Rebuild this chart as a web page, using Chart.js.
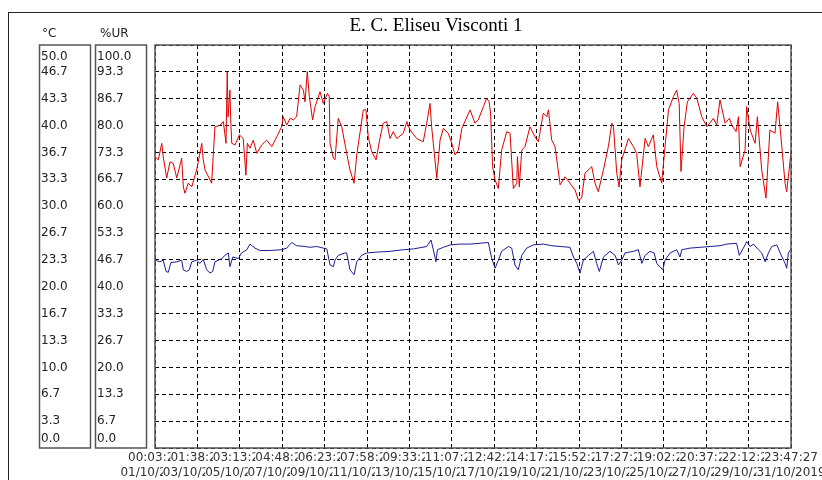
<!DOCTYPE html>
<html>
<head>
<meta charset="utf-8">
<script src="https://cdn.jsdelivr.net/npm/chart.js@4.4.1/dist/chart.umd.min.js"></script>
<style>
  body { margin: 0; background: #fff; }
</style>
</head>
<body>
<canvas id="EstacaoChart" width="822" height="480"></canvas>
<script>
// Estacao climatica - temperatura e umidade relativa, outubro 2019
var chartTitle = 'E. C. Eliseu Visconti 1';
var axisHeaders = ['°C', '%UR'];

// x axis: days since 01/10/2019 00:03
var spanDays = 30.989;
var tickTimes = ['00:03:27', '01:38:27', '03:13:27', '04:48:27', '06:23:27', '07:58:27', '09:33:27', '11:07:27',
  '12:42:27', '14:17:27', '15:52:27', '17:27:27', '19:02:27', '20:37:27', '22:12:27', '23:47:27'];
var tickDates = ['01/10/2019', '03/10/2019', '05/10/2019', '07/10/2019', '09/10/2019', '11/10/2019', '13/10/2019', '15/10/2019',
  '17/10/2019', '19/10/2019', '21/10/2019', '23/10/2019', '25/10/2019', '27/10/2019', '29/10/2019', '31/10/2019'];

var tempLabels = ['0.0', '3.3', '6.7', '10.0', '13.3', '16.7', '20.0', '23.3', '26.7', '30.0', '33.3', '36.7', '40.0', '43.3', '46.7', '50.0'];
var humLabels = ['0.0', '6.7', '13.3', '20.0', '26.7', '33.3', '40.0', '46.7', '53.3', '60.0', '66.7', '73.3', '80.0', '86.7', '93.3', '100.0'];

// umidade relativa (%UR)
var humDays = [0.00, 0.16, 0.33, 0.40, 0.57, 0.73, 0.89, 1.06, 1.30, 1.38,
  1.46, 1.62, 1.79, 2.03, 2.28, 2.35, 2.44, 2.76, 2.92, 3.17,
  3.33, 3.46, 3.52, 3.56, 3.65, 3.69, 3.74, 3.90, 4.11, 4.30,
  4.43, 4.50, 4.63, 4.79, 4.96, 5.20, 5.44, 5.69, 5.93, 6.17,
  6.25, 6.42, 6.58, 6.74, 6.90, 7.07, 7.23, 7.31, 7.42, 7.52,
  7.68, 7.80, 8.04, 8.20, 8.40, 8.49, 8.53, 8.69, 8.77, 8.93,
  9.10, 9.34, 9.50, 9.70, 9.83, 10.15, 10.28, 10.39, 10.56, 10.77,
  10.96, 11.12, 11.29, 11.45, 11.61, 11.78, 12.10, 12.27, 12.43, 12.75,
  13.07, 13.24, 13.40, 13.48, 13.56, 13.73, 13.89, 14.05, 14.29, 14.46,
  14.62, 14.78, 14.95, 15.35, 15.59, 15.75, 16.00, 16.16, 16.28, 16.35,
  16.45, 16.57, 16.73, 16.89, 17.14, 17.30, 17.46, 17.63, 17.66, 17.75,
  17.87, 18.03, 18.27, 18.52, 18.68, 18.92, 19.09, 19.17, 19.33, 19.49,
  19.74, 19.98, 20.22, 20.47, 20.63, 20.79, 20.95, 21.28, 21.44, 21.60,
  21.85, 22.09, 22.26, 22.34, 22.50, 22.61, 22.74, 23.07, 23.31, 23.47,
  23.63, 23.88, 24.04, 24.28, 24.45, 24.69, 24.82, 25.02, 25.26, 25.42,
  25.54, 25.63, 25.78, 25.94, 26.23, 26.40, 26.64, 26.89, 27.21, 27.37,
  27.53, 27.78, 27.99, 28.10, 28.31, 28.43, 28.51, 28.75, 28.83, 29.00,
  29.24, 29.35, 29.56, 29.77, 29.96, 30.21, 30.34, 30.54, 30.70, 30.78,
  30.99];
var humValues = [72.3, 71.5, 75.6, 72.3, 67.0, 71.0, 70.6, 67.0, 71.9, 64.8,
  63.2, 65.7, 64.8, 69.0, 75.6, 71.5, 69.0, 65.7, 79.7, 80.1,
  81.0, 75.6, 93.4, 82.2, 88.8, 81.4, 75.6, 75.2, 77.7, 76.8,
  67.7, 75.6, 74.4, 76.4, 73.1, 75.2, 76.4, 74.8, 77.2, 79.7,
  82.2, 80.1, 81.8, 81.4, 82.2, 90.1, 88.8, 85.9, 93.4, 87.2,
  81.4, 84.7, 88.4, 85.5, 88.0, 87.2, 75.6, 71.9, 71.5, 81.8,
  79.7, 73.1, 69.0, 65.7, 72.7, 83.9, 83.9, 77.2, 73.5, 71.5,
  76.8, 80.6, 81.0, 76.8, 78.5, 76.8, 78.1, 81.0, 78.9, 76.8,
  76.0, 80.6, 85.5, 79.7, 75.6, 66.9, 76.4, 79.3, 78.1, 75.6,
  72.7, 73.9, 79.3, 83.9, 80.6, 81.4, 84.7, 86.8, 85.9, 83.1,
  69.8, 66.5, 64.4, 73.9, 78.5, 78.1, 64.4, 65.7, 72.3, 64.8,
  73.9, 74.8, 79.7, 77.2, 76.0, 83.1, 82.2, 83.9, 76.4, 74.8,
  65.3, 67.3, 65.7, 64.0, 61.5, 62.0, 68.2, 69.8, 65.7, 63.6,
  69.0, 74.8, 80.6, 79.7, 68.2, 64.8, 71.5, 76.8, 74.8, 73.1,
  64.8, 76.8, 74.8, 77.7, 69.8, 65.7, 73.1, 83.9, 87.2, 88.8,
  85.5, 68.6, 79.7, 85.9, 88.0, 86.8, 82.2, 79.7, 81.8, 80.1,
  86.4, 80.6, 81.8, 80.1, 78.5, 82.2, 69.8, 73.9, 84.7, 78.9,
  75.6, 82.2, 69.0, 62.0, 78.9, 78.1, 85.9, 74.8, 65.7, 63.6,
  73.5];

// temperatura (°C)
var tempDays = [0.00, 0.24, 0.40, 0.54, 0.65, 0.77, 1.06, 1.30, 1.38, 1.54,
  1.67, 1.79, 2.03, 2.19, 2.35, 2.52, 2.68, 2.81, 2.92, 3.25,
  3.41, 3.57, 3.65, 3.79, 4.06, 4.22, 4.47, 4.63, 4.87, 5.12,
  5.60, 6.17, 6.42, 6.66, 6.90, 7.31, 7.55, 7.88, 8.20, 8.37,
  8.53, 8.69, 8.77, 8.93, 9.26, 9.34, 9.50, 9.70, 9.83, 10.07,
  10.32, 10.80, 11.45, 12.10, 12.59, 13.24, 13.45, 13.56, 13.69, 13.76,
  14.05, 14.38, 14.86, 15.35, 15.84, 16.24, 16.41, 16.57, 16.73, 16.89,
  17.22, 17.38, 17.54, 17.70, 17.87, 18.11, 18.43, 18.92, 19.33, 19.74,
  20.22, 20.39, 20.55, 20.71, 20.87, 21.12, 21.36, 21.52, 21.65, 21.85,
  22.17, 22.42, 22.58, 22.74, 22.90, 23.31, 23.55, 23.72, 23.88, 24.12,
  24.32, 24.45, 24.74, 24.85, 25.10, 25.42, 25.58, 25.67, 26.07, 26.56,
  27.05, 27.53, 27.86, 28.34, 28.47, 28.67, 28.83, 29.00, 29.16, 29.40,
  29.56, 29.73, 29.89, 30.05, 30.30, 30.46, 30.70, 30.78, 30.86, 30.99];
var tempValues = [23.3, 23.1, 23.3, 21.9, 21.8, 23.0, 23.1, 23.3, 22.1, 21.9,
  22.1, 23.1, 23.3, 22.9, 23.4, 22.1, 21.7, 21.9, 23.1, 23.5,
  23.9, 24.2, 22.5, 23.7, 23.5, 24.2, 24.6, 25.3, 24.8, 24.5,
  24.5, 24.6, 24.8, 25.5, 25.1, 25.0, 24.9, 25.0, 24.8, 24.7,
  22.7, 22.5, 23.3, 23.9, 24.2, 24.2, 22.1, 21.5, 23.1, 23.9,
  24.2, 24.3, 24.4, 24.6, 24.7, 25.0, 25.8, 24.6, 23.1, 24.6,
  24.9, 25.2, 25.3, 25.3, 25.4, 25.5, 23.5, 22.3, 23.3, 24.4,
  25.0, 24.8, 22.7, 22.1, 23.9, 24.8, 25.2, 25.3, 25.1, 25.0,
  24.9, 23.7, 22.9, 21.7, 23.3, 23.9, 24.4, 22.9, 21.9, 23.7,
  24.4, 23.9, 22.7, 23.3, 24.2, 24.4, 24.6, 22.9, 23.9, 24.4,
  24.2, 22.9, 22.1, 23.3, 24.2, 24.6, 23.7, 24.6, 24.8, 24.9,
  25.0, 25.1, 25.3, 25.4, 23.9, 24.8, 25.6, 25.0, 25.3, 24.6,
  24.2, 23.1, 24.2, 25.0, 25.2, 24.2, 22.9, 22.3, 24.2, 24.7];

function toPoints(days, values) {
  return days.map(function (d, i) { return { x: d, y: values[i] }; });
}

// first and last labels sit inside the box, like the logger software does
function boxLabel(labels, i) {
  if (i === 0) return [labels[0], ''];
  if (i === labels.length - 1) return ['', labels[i]];
  return labels[i];
}
function boxFont(c) {
  var lh = c.index === 0 ? '18px' : (c.index === 15 ? '24px' : 1.2);
  return { family: 'DejaVu Sans', size: 12, lineHeight: lh };
}

// both bottom rows share the same ticks; each later label paints over the tail of the previous one
function bottomAxis(labels, weight, height, showGrid) {
  return {
    type: 'linear',
    position: 'bottom',
    weight: weight,
    min: 0,
    max: spanDays,
    afterBuildTicks: function (s) {
      s.ticks = labels.map(function (t, i) { return { value: i * spanDays / 15 }; });
    },
    afterFit: function (s) {
      s.height = height;
      s.paddingLeft = 0;
      s.paddingRight = 0;
    },
    grid: { display: showGrid, color: '#000', lineWidth: 1, drawTicks: false },
    border: { display: false, dash: [4, 3] },
    ticks: {
      autoSkip: false,
      maxRotation: 0,
      minRotation: 0,
      padding: showGrid ? 3 : 1,
      color: '#333',
      showLabelBackdrop: true,
      backdropColor: '#fff',
      backdropPadding: 0,
      font: { family: 'DejaVu Sans', size: 12, lineHeight: '14px' },
      callback: function (v, i) { return labels[i]; }
    }
  };
}

var framePlugin = {
  id: 'frame',
  beforeDraw: function (chart) {
    var ctx = chart.ctx, area = chart.chartArea;
    ctx.save();
    ctx.fillStyle = '#fff';
    ctx.fillRect(0, 0, chart.width, chart.height);
    ctx.strokeStyle = '#222';
    ctx.lineWidth = 1;
    ctx.strokeRect(8.5, 12.5, chart.width, chart.height);

    ctx.fillStyle = '#000';
    ctx.font = '19px "Liberation Serif"';
    ctx.textAlign = 'center';
    ctx.textBaseline = 'alphabetic';
    ctx.fillText(chartTitle, 436, 31);

    ['yT', 'yH'].forEach(function (id, i) {
      var s = chart.scales[id];
      ctx.strokeStyle = '#555';
      ctx.lineWidth = 1.5;
      ctx.strokeRect(s.left - 1.5, area.top, 51, area.bottom - area.top);
      ctx.fillStyle = '#222';
      ctx.font = '12px "DejaVu Sans"';
      ctx.textAlign = 'left';
      ctx.textBaseline = 'middle';
      ctx.fillText(axisHeaders[i], s.left + [1, 3][i], 34);
    });
    ctx.restore();
  },
  afterDraw: function (chart) {
    var ctx = chart.ctx, a = chart.chartArea;
    ctx.save();
    ctx.strokeStyle = '#555';
    ctx.lineWidth = 1.5;
    ctx.strokeRect(a.left, a.top, a.right - a.left, a.bottom - a.top);
    ctx.restore();
  }
};

var ctx = document.getElementById('EstacaoChart').getContext('2d');
var chart = new Chart(ctx, {
  type: 'line',
  data: {
    datasets: [{
      label: '%UR',
      data: toPoints(humDays, humValues),
      yAxisID: 'yH',
      borderColor: '#e00000',
      borderWidth: 1,
      pointRadius: 0,
      tension: 0
    }, {
      label: '°C',
      data: toPoints(tempDays, tempValues),
      yAxisID: 'yT',
      borderColor: '#1c1c96',
      borderWidth: 1,
      pointRadius: 0,
      tension: 0
    }]
  },
  options: {
    responsive: false,
    animation: false,
    events: [],
    layout: { padding: { left: 41, right: 31, top: 45, bottom: 0 } },
    plugins: {
      legend: { display: false },
      title: { display: false },
      tooltip: { enabled: false }
    },
    scales: {
      x: bottomAxis(tickTimes, 0, 17, true),
      xDate: bottomAxis(tickDates, 1, 15, false),
      yT: {
        type: 'linear',
        position: 'left',
        weight: 1,
        min: 0,
        max: 50,
        afterBuildTicks: function (s) {
          s.ticks = tempLabels.map(function (l, i) { return { value: i * 50 / 15 }; });
        },
        afterFit: function (s) { s.width = 56; },
        grid: { display: false },
        border: { display: false },
        ticks: {
          autoSkip: false,
          crossAlign: 'far',
          padding: 0,
          color: '#222',
          font: boxFont,
          callback: function (v, i) { return boxLabel(tempLabels, i); }
        }
      },
      yH: {
        type: 'linear',
        position: 'left',
        weight: 0,
        min: 0,
        max: 100,
        afterBuildTicks: function (s) {
          s.ticks = humLabels.map(function (l, i) { return { value: i * 100 / 15 }; });
        },
        afterFit: function (s) { s.width = 58; },
        grid: { color: '#000', lineWidth: 1, drawTicks: false },
        border: { display: false, dash: [4, 3] },
        ticks: {
          autoSkip: false,
          crossAlign: 'far',
          padding: 0,
          color: '#222',
          font: boxFont,
          callback: function (v, i) { return boxLabel(humLabels, i); }
        }
      }
    }
  },
  plugins: [framePlugin]
});
</script>
</body>
</html>
